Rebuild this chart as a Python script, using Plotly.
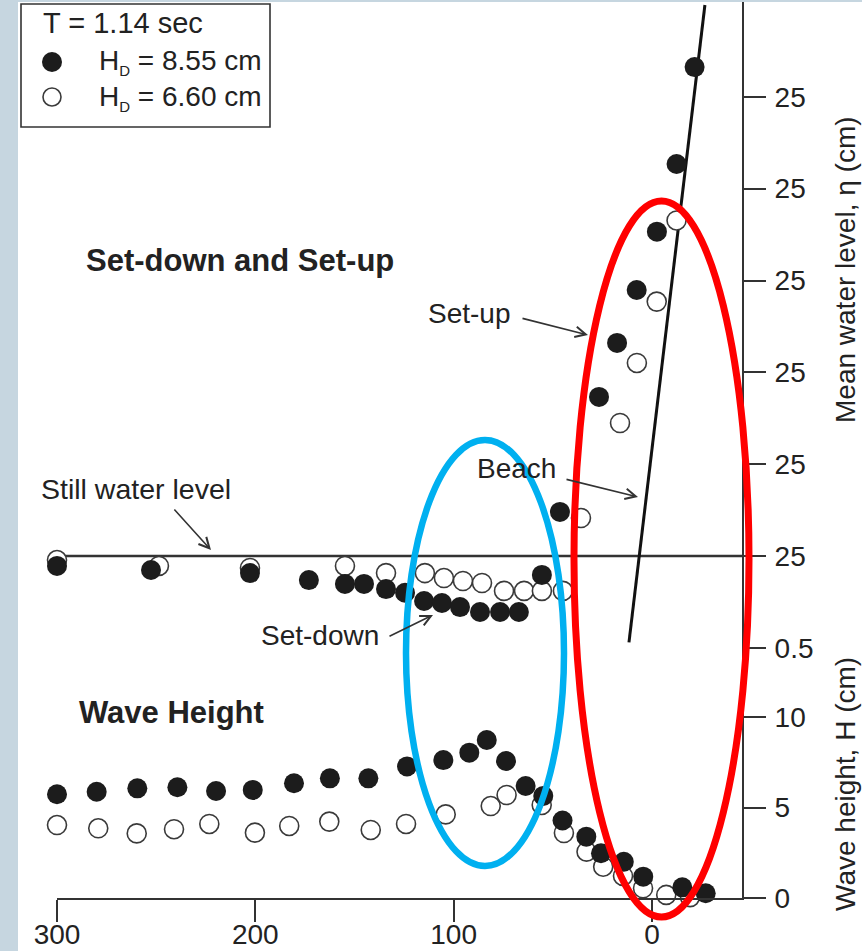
import plotly.graph_objects as go

# ---------------------------------------------------------------------------
# Data: distance from the still-water shoreline (cm, offshore positive)
# ---------------------------------------------------------------------------
# Mean water level, eta (cm) -- H_D = 8.55 cm (filled)
x_eta_855 = [300, 252.6, 202.7, 173.0, 154.8, 145.2, 134.1, 124.5, 114.9, 105.9,
             96.8, 86.7, 76.6, 67.1, 55.5, 46.4, 26.7, 17.6, 7.7, -2.5, -12.4, -21.5]
eta_855 = [-0.054, -0.076, -0.093, -0.131, -0.152, -0.152, -0.180, -0.200, -0.245, -0.256,
           -0.278, -0.305, -0.305, -0.305, -0.103, 0.240, 0.866, 1.160, 1.448, 1.766, 2.134, 2.662]

# Mean water level, eta (cm) -- H_D = 6.60 cm (open)
x_eta_660 = [300, 248.6, 202.7, 154.8, 134.1, 114.5, 104.9, 95.3, 85.7, 74.6,
             64.5, 55.5, 44.9, 35.8, 16.1, 7.6, -2.4, -12.4]
eta_660 = [-0.022, -0.054, -0.065, -0.054, -0.093, -0.093, -0.120, -0.136, -0.147, -0.190,
           -0.190, -0.190, -0.190, 0.207, 0.724, 1.051, 1.385, 1.827]

# Wave height, H (cm) -- H_D = 8.55 cm (filled)
x_h_855 = [300, 280.0, 259.5, 239.3, 219.8, 201.3, 180.5, 162.4, 143.0, 123.5,
           105.2, 92.1, 83.3, 73.6, 63.7, 54.8, 45.1, 33.1, 25.7, 14.2, 4.4, -15.3, -27.1]
h_855 = [5.73, 5.87, 6.06, 6.12, 5.91, 5.97, 6.34, 6.61, 6.61, 7.27,
         7.62, 8.03, 8.73, 7.57, 6.19, 5.64, 4.28, 3.39, 2.47, 2.00, 1.18, 0.59, 0.26]

# Wave height, H (cm) -- H_D = 6.60 cm (open)
x_h_660 = [300, 279.2, 259.8, 241.0, 223.2, 200.2, 182.9, 162.7, 141.8, 124.0,
           104.0, 81.3, 73.3, 55.6, 44.4, 33.0, 24.6, 14.6, 4.5, -7.2, -19.2]
h_660 = [4.03, 3.85, 3.57, 3.80, 4.09, 3.61, 3.98, 4.22, 3.76, 4.09,
         4.62, 5.08, 5.69, 5.14, 3.59, 2.56, 1.73, 1.22, 0.54, 0.17, 0.05]

# Still water level and beach profile
x_still = [300, -45.4]
eta_still = [0, 0]
x_beach = [11.6, -26.7]
eta_beach = [-0.47, 3.0]

# Axis ticks
x_ticks = [300, 200, 100, 0]
eta_ticks = [-0.5, 0, 0.5, 1.0, 1.5, 2.0, 2.5]
eta_ticktext = ["0.5", "25", "25", "25", "25", "25", "25"]
h_ticks = [0, 5, 10]

# ---------------------------------------------------------------------------
# Layout geometry (pixels)
# ---------------------------------------------------------------------------
W, H = 862, 951
ML, MR, MT, MB = 57, 120, 2, 53
PW, PH = W - ML - MR, H - MT - MB


def px(xp):
    return (xp - ML) / PW


def py(yp):
    return (H - MB - yp) / PH


FONT = "Liberation Sans, Arial, Helvetica, sans-serif"
INK = "#222222"
LINE = "#333333"
FILL = "#1c1c1c"

fig = go.Figure()

open_marker = dict(size=19, color="white", line=dict(color="#3a3a3a", width=1.6))
filled_marker = dict(size=20, color=FILL, line=dict(width=0))

# Reference lines (upper panel)
fig.add_trace(go.Scatter(x=x_still, y=eta_still, mode="lines", xaxis="x", yaxis="y2",
                         line=dict(color=LINE, width=2.5), showlegend=False, hoverinfo="skip"))
fig.add_trace(go.Scatter(x=x_beach, y=eta_beach, mode="lines", xaxis="x", yaxis="y2",
                         line=dict(color="#111111", width=3), showlegend=False, hoverinfo="skip"))

# Mean water level
fig.add_trace(go.Scatter(x=x_eta_660, y=eta_660, mode="markers", xaxis="x", yaxis="y2",
                         marker=open_marker, cliponaxis=False, showlegend=False))
fig.add_trace(go.Scatter(x=x_eta_855, y=eta_855, mode="markers", xaxis="x", yaxis="y2",
                         marker=filled_marker, cliponaxis=False, showlegend=False))

# Wave height
fig.add_trace(go.Scatter(x=x_h_660, y=h_660, mode="markers", xaxis="x", yaxis="y",
                         marker=open_marker, cliponaxis=False, showlegend=False))
fig.add_trace(go.Scatter(x=x_h_855, y=h_855, mode="markers", xaxis="x", yaxis="y",
                         marker=filled_marker, cliponaxis=False, showlegend=False))

axis_common = dict(showgrid=False, zeroline=False, showline=True, linecolor=LINE, linewidth=2,
                   ticks="outside", ticklen=22, tickwidth=2, tickcolor=LINE, automargin=False,
                   tickfont=dict(family=FONT, size=28, color=INK))

fig.update_layout(
    width=W, height=H,
    margin=dict(l=ML, r=MR, t=MT, b=MB, autoexpand=False),
    paper_bgcolor="#c6d6e0",
    plot_bgcolor="white",
    showlegend=False,
    xaxis=dict(range=[300, -45.4], anchor="y", tickvals=x_ticks, ticklabelstandoff=-12,
               **axis_common),
    yaxis=dict(domain=[0, py(700)], range=[0, 198 / 18.1], side="right", anchor="x",
               tickvals=h_ticks, ticklabelstandoff=3, **axis_common),
    yaxis2=dict(domain=[py(663), 1], range=[(556 - 663) / 183.67, (556 - 2) / 183.67],
                side="right", anchor="x", tickvals=eta_ticks, ticktext=eta_ticktext,
                ticklabelstandoff=3, **axis_common),
)

shapes = [
    # white page behind the chart
    dict(type="rect", xref="paper", yref="paper", x0=px(18), x1=px(W + 5), y0=py(H + 5), y1=py(2),
         fillcolor="white", line=dict(width=0), layer="below"),
    # legend box
    dict(type="rect", xref="paper", yref="paper", x0=px(21), x1=px(270), y0=py(127), y1=py(4),
         fillcolor="white", line=dict(color=LINE, width=1.6), layer="above"),
    # legend symbols
    dict(type="circle", xref="paper", yref="paper", xsizemode="pixel", ysizemode="pixel",
         xanchor=px(52), yanchor=py(62), x0=-10, x1=10, y0=-10, y1=10,
         fillcolor=FILL, line=dict(width=0), layer="above"),
    dict(type="circle", xref="paper", yref="paper", xsizemode="pixel", ysizemode="pixel",
         xanchor=px(52), yanchor=py(97), x0=-9, x1=9, y0=-9, y1=9,
         fillcolor="white", line=dict(color="#3a3a3a", width=1.6), layer="above"),
    # highlight ellipses
    dict(type="circle", xref="paper", yref="paper", x0=px(406), x1=px(564), y0=py(866), y1=py(440),
         line=dict(color="#00b0f0", width=6.5), layer="above"),
    dict(type="circle", xref="paper", yref="paper", x0=px(574), x1=px(749), y0=py(917), y1=py(201),
         line=dict(color="#ff0000", width=7), layer="above"),
]
fig.update_layout(shapes=shapes)


def text(xp, yp, s, size=28, bold=False, angle=0, xanchor="left"):
    return dict(xref="paper", yref="paper", x=px(xp), y=py(yp), text=f"<b>{s}</b>" if bold else s,
                showarrow=False, xanchor=xanchor, yanchor="middle", textangle=angle,
                font=dict(family=FONT, size=size, color=INK), borderpad=0)


def arrow(tail, head):
    return dict(xref="paper", yref="paper", x=px(head[0]), y=py(head[1]),
                ax=tail[0] - head[0], ay=tail[1] - head[1], text="", showarrow=True,
                arrowhead=5, arrowsize=1.3, arrowwidth=1.6, arrowcolor=LINE, standoff=0)


SUB_D = "<sub><span style='font-size:15px'>D</span></sub>"

annotations = [
    text(42, 23, "T = 1.14 sec", size=29),
    text(98, 62, f"H{SUB_D} = 8.55 cm", size=28),
    text(98, 98, f"H{SUB_D} = 6.60 cm", size=28),
    text(85, 260, "Set-down and Set-up", size=31, bold=True),
    text(78, 712, "Wave Height", size=31, bold=True),
    text(40, 489, "Still water level", size=28.5),
    text(260, 635, "Set-down"),
    text(427, 313, "Set-up"),
    text(476, 468, "Beach"),
    text(845, 270, "Mean water level, η (cm)", size=28, angle=-90, xanchor="center"),
    text(845, 784, "Wave height, H (cm)", size=28, angle=-90, xanchor="center"),
    arrow((173, 508), (211, 550)),
    arrow((388, 637), (433, 615)),
    arrow((521, 318), (588, 335)),
    arrow((565, 479), (638, 497)),
]
fig.update_layout(annotations=annotations)

fig.write_html("out.html")
